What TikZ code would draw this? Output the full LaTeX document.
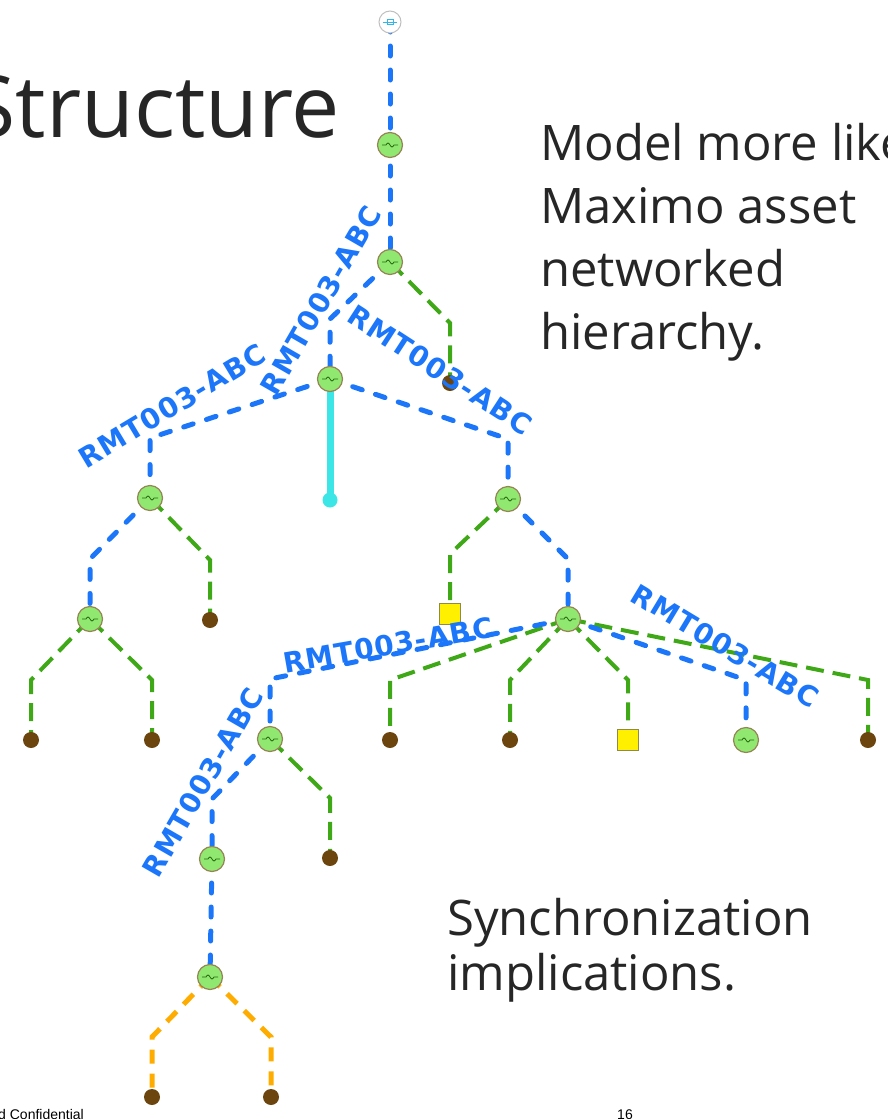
\documentclass[tikz,border=0pt]{standalone}
\usepackage{fontspec}
\setmainfont{Open Sans}
\newfontfamily\circuitfont{DejaVu Sans}[LetterSpace=4]
\newfontfamily\footfont{Liberation Sans}
\usetikzlibrary{calc}
\definecolor{feederblue}{RGB}{28,118,250}
\definecolor{lateralgreen}{RGB}{62,168,22}
\definecolor{serviceorange}{RGB}{255,172,0}
\definecolor{tapbrown}{RGB}{108,68,14}
\definecolor{genfill}{RGB}{144,232,112}
\definecolor{genedge}{RGB}{150,132,86}
\definecolor{xfmryellow}{RGB}{255,240,0}
\definecolor{stubcyan}{RGB}{60,230,230}
\definecolor{textgrey}{RGB}{38,38,38}
\pgfdeclarelayer{edges}
\pgfsetlayers{edges,main}
\tikzset{
  feeder/.style={color=feederblue, line width=5pt, line cap=round, dash pattern=on 10pt off 14pt},
  lateral/.style={color=lateralgreen, line width=4pt, dash pattern=on 18pt off 9pt},
  service/.style={color=serviceorange, line width=5pt, dash pattern=on 14pt off 10pt},
  stub/.style={color=stubcyan, line width=7pt, line cap=round},
  gen/.style={circle, minimum size=25pt, inner sep=0pt, fill=genfill, draw=genedge, line width=1.2pt,
    path picture={\draw[lateralgreen!60!black, line width=0.8pt]
      ([xshift=-8pt]path picture bounding box.center) -- ++(4pt,0) sin ++(2pt,2pt) cos ++(2pt,-2pt)
      sin ++(2pt,-2pt) cos ++(2pt,2pt) -- ++(4pt,0);}},
  tap/.style={circle, minimum size=16pt, inner sep=0pt, fill=tapbrown},
  tapend/.style={circle, minimum size=15pt, inner sep=0pt, fill=stubcyan},
  xfmr/.style={rectangle, minimum size=21pt, inner sep=0pt, fill=xfmryellow, draw=yellow!50!black, line width=1pt},
  source/.style={circle, minimum size=22pt, inner sep=0pt, fill=white, draw=black!25, line width=1pt,
    path picture={\draw[stubcyan!80!blue, line width=1pt]
      ([xshift=-7pt]path picture bounding box.center) -- ++(14pt,0)
      ([xshift=-3pt,yshift=-2.5pt]path picture bounding box.center) rectangle ++(6pt,5pt);}},
  circuit/.style={text=feederblue, font=\circuitfont\bfseries\fontsize{28}{32}\selectfont, inner sep=0pt},
  body/.style={text=textgrey, font=\fontsize{49}{60}\selectfont, inner sep=0pt, anchor=base west},
}
\def\branch[#1](#2)(#3){\draw[#1] (#2.center) -- ([yshift=60pt]#3.center) -- (#3.center);}

\begin{document}
\begin{tikzpicture}[x=1pt, y=-1pt]
			\useasboundingbox (0,0) rectangle (888,1119);
			
			%%%%% NODES %%%%%
			\node[source] (src) at (390,22) {};
			\node[gen] (g1) at (390,145) {};
			\node[gen] (g2) at (390,262) {};
			\node[tap] (t1) at (450,383) {};
			\node[gen] (g3) at (330,379) {};
			\node[tapend] (c1) at (330,500) {};
			\node[gen] (g4) at (150,498) {};
			\node[gen] (g5) at (508,499) {};
			\node[gen] (g6) at (90,619) {};
			\node[tap] (t2) at (210,620) {};
			\node[tap] (t3) at (31,740) {};
			\node[tap] (t4) at (152,740) {};
			\node[xfmr] (x1) at (450,614) {};
			\node[gen] (g7) at (568,619) {};
			\node[tap] (t5) at (390,740) {};
			\node[tap] (t6) at (510,740) {};
			\node[xfmr] (x2) at (628,740) {};
			\node[gen] (g8) at (746,740) {};
			\node[tap] (t7) at (868,740) {};
			\node[gen] (g9) at (270,739) {};
			\node[tap] (t8) at (330,858) {};
			\node[gen] (g10) at (212,859) {};
			\node[gen] (g11) at (210,977) {};
			\node[tap] (t9) at (152,1097) {};
			\node[tap] (t10) at (271,1097) {};
			
			%%%%% LINES %%%%%
			\begin{pgfonlayer}{edges}
			\draw[feeder] (src.center) -- (g1.center) -- (g2.center);
			\branch[feeder](g2)(g3)
			\branch[lateral](g2)(t1)
			\draw[stub] (g3.center) -- (c1.center);
			\branch[feeder](g3)(g4)
			\branch[feeder](g3)(g5)
			\branch[feeder](g4)(g6)
			\branch[lateral](g4)(t2)
			\branch[lateral](g6)(t3)
			\branch[lateral](g6)(t4)
			\branch[lateral](g5)(x1)
			\branch[feeder](g5)(g7)
			\branch[lateral](g7)(t5)
			\branch[lateral](g7)(t6)
			\branch[lateral](g7)(x2)
			\branch[lateral](g7)(t7)
			\branch[feeder](g7)(g8)
			\branch[feeder](g7)(g9)
			\branch[feeder](g9)(g10)
			\branch[lateral](g9)(t8)
			\draw[feeder] (g10.center) -- (g11.center);
			\branch[service](g11)(t9)
			\branch[service](g11)(t10)
			\end{pgfonlayer}
			
			%%%%% LABELS %%%%%
			\node[circuit, rotate=60] (lab1) at (321,300) {RMT003-ABC};
			\node[circuit, rotate=31] (lab2) at (172,406) {RMT003-ABC};
			\node[circuit, rotate=-33] (lab3) at (440,370) {RMT003-ABC};
			\node[circuit, rotate=10] (lab4) at (388,645) {RMT003-ABC};
			\node[circuit, rotate=-31] (lab5) at (725,646) {RMT003-ABC};
			\node[circuit, rotate=60] (lab6) at (203,782) {RMT003-ABC};
			
			%%%%% TEXT %%%%%
			\node[text=textgrey, font=\fontsize{86}{100}\selectfont, inner sep=0pt, anchor=base east] (title) at (340,137) {Structure};
			\node[body] (m1) at (540,160) {Model more like};
			\node[body] (m2) at (540,223) {Maximo asset};
			\node[body] (m3) at (540,286) {networked};
			\node[body] (m4) at (540,349) {hierarchy.};
			\node[body] (s1) at (447,935) {Synchronization};
			\node[body] (s2) at (447,990) {implications.};
			\node[text=black, font=\footfont\fontsize{14}{17}\selectfont, inner sep=0pt, anchor=base west] (conf) at (-2,1119) {d Confidential};
			\node[text=black, font=\footfont\fontsize{14}{17}\selectfont, inner sep=0pt, anchor=base] (page) at (625,1119) {16};
		\end{tikzpicture}
\end{document}
